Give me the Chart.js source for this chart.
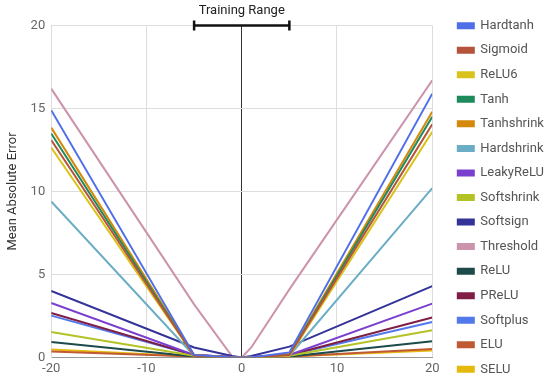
<!DOCTYPE html>
<html>
<head>
  <title>Extrapolation Error</title>
  <script src="https://cdn.jsdelivr.net/npm/chart.js"></script>
  <style>
    body { margin: 0; background: #fff; }
    #wrap { width: 550px; height: 381px; }
  </style>
</head>
<body>
  <div id="wrap"><canvas id="errChart"></canvas></div>
  <script>
    // sample points along the x axis
    const xValues = [-20, -5, -1, 0, 1, 5, 20];

    // mean absolute error per activation
    const hardtanh   = [14.9, 0.15, 0, 0, 0, 0.3, 15.9];
    const sigmoid    = [13.1, 0.1, 0, 0, 0, 0.15, 14.05];
    const relu6      = [12.65, 0.1, 0, 0, 0, 0.1, 13.6];
    const tanh       = [13.5, 0.1, 0, 0, 0, 0.15, 14.5];
    const tanhshrink = [13.85, 0.15, 0, 0, 0, 0.2, 14.8];
    const hardshrink = [9.4, 0.1, 0, 0, 0, 0.1, 10.2];
    const leakyRelu  = [3.28, 0.15, 0.02, 0, 0.02, 0.15, 3.24];
    const softshrink = [1.53, 0.1, 0.01, 0, 0.01, 0.1, 1.63];
    const softsign   = [4.0, 0.6, 0.08, 0, 0.08, 0.65, 4.3];
    const threshold  = [16.2, 3.2, 0.05, 0, 0.6, 4.1, 16.7];
    const relu       = [0.93, 0.05, 0, 0, 0, 0.05, 0.98];
    const prelu      = [2.68, 0.15, 0.02, 0, 0.02, 0.15, 2.4];
    const softplus   = [2.52, 0.15, 0.02, 0, 0.02, 0.15, 2.13];
    const elu        = [0.36, 0.05, 0, 0, 0, 0.05, 0.5];
    const selu       = [0.48, 0.05, 0, 0, 0, 0.05, 0.42];

    const seriesNames = ['Hardtanh', 'Sigmoid', 'ReLU6', 'Tanh', 'Tanhshrink', 'Hardshrink', 'LeakyReLU',
      'Softshrink', 'Softsign', 'Threshold', 'ReLU', 'PReLU', 'Softplus', 'ELU', 'SELU'];
    const seriesValues = [hardtanh, sigmoid, relu6, tanh, tanhshrink, hardshrink, leakyRelu,
      softshrink, softsign, threshold, relu, prelu, softplus, elu, selu];
    const seriesColors = ['#4f6fe8', '#b5533c', '#d9c21a', '#1f8a5b', '#d4890a', '#6badc4', '#7b3fcf',
      '#b3c225', '#333399', '#cc93ac', '#1d4a4a', '#7f1f45', '#5279ec', '#bf5a35', '#e6b90e'];

    const yTicks = [0, 5, 10, 15, 20];
    const xTicks = [-20, -10, 0, 10, 20];
    const trainingRange = [-5, 5];

    const datasets = seriesNames.map((name, i) => ({
      label: name,
      data: xValues.map((x, j) => ({ x: x, y: seriesValues[i][j] })),
      borderColor: seriesColors[i],
      backgroundColor: seriesColors[i],
      borderWidth: 2,
      pointRadius: 0,
      tension: 0
    }));

    // bracket showing the training range along the top of the plot
    const trainingRangePlugin = {
      id: 'trainingRange',
      afterLayout(chart) {
        // nudge the legend column a bit right / down, like the original
        chart.legend.left += 14; chart.legend.right += 14;
        chart.legend.top += 7; chart.legend.bottom += 7;
      },
      afterDraw(chart) {
        const { ctx, scales: { x, y } } = chart;
        const x0 = x.getPixelForValue(trainingRange[0]);
        const x1 = x.getPixelForValue(trainingRange[1]);
        const yy = y.getPixelForValue(yTicks[yTicks.length - 1]);
        ctx.save();
        ctx.strokeStyle = '#111';
        ctx.lineWidth = 2.5;
        ctx.beginPath();
        ctx.moveTo(x0, yy); ctx.lineTo(x1, yy);
        ctx.moveTo(x0, yy - 5); ctx.lineTo(x0, yy + 5);
        ctx.moveTo(x1, yy - 5); ctx.lineTo(x1, yy + 5);
        ctx.stroke();
        ctx.restore();
      }
    };

    new Chart(document.getElementById('errChart'), {
      type: 'line',
      data: { datasets: datasets },
      plugins: [trainingRangePlugin],
      options: {
        responsive: true,
        maintainAspectRatio: false,
        animation: false,
        layout: { padding: { top: 0, left: 1, right: 10, bottom: 0 } },
        plugins: {
          tooltip: { enabled: false },
          title: {
            display: true,
            text: 'Training Range',
            fullSize: false,
            color: '#222',
            font: { family: 'Roboto', size: 13, weight: 'normal' },
            padding: { top: 3, bottom: 7 }
          },
          legend: {
            position: 'right',
            labels: {
              boxWidth: 16,
              boxHeight: 5,
              padding: 11.55,
              color: '#555',
              font: { family: 'Roboto', size: 13 }
            }
          }
        },
        scales: {
          x: {
            type: 'linear',
            min: xTicks[0],
            max: xTicks[xTicks.length - 1],
            afterBuildTicks: axis => { axis.ticks = xTicks.map(v => ({ value: v })); },
            grid: {
              color: c => (c.tick && c.tick.value === 0) ? '#333' : '#ddd',
              drawTicks: false
            },
            border: { color: '#999' },
            ticks: { color: '#666', padding: 4, font: { family: 'Roboto', size: 13 } }
          },
          y: {
            min: yTicks[0],
            max: yTicks[yTicks.length - 1],
            afterBuildTicks: axis => { axis.ticks = yTicks.map(v => ({ value: v })); },
            grid: { color: '#ddd', drawTicks: false },
            border: { color: '#ddd' },
            ticks: { color: '#666', padding: 6, font: { family: 'Roboto', size: 13 } },
            title: {
              display: true,
              text: 'Mean Absolute Error',
              color: '#333',
              font: { family: 'Roboto', size: 13 }
            }
          }
        }
      }
    });
  </script>
</body>
</html>
